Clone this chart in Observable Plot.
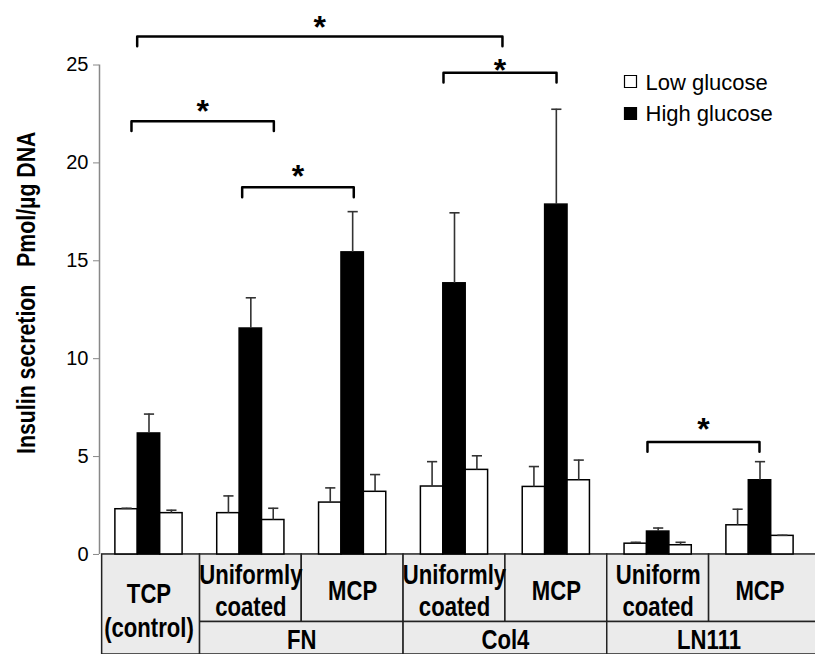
<!DOCTYPE html>
<html>
<head>
<meta charset="utf-8">
<script src="https://cdn.jsdelivr.net/npm/d3@7"></script>
<script src="https://cdn.jsdelivr.net/npm/@observablehq/plot@0.6"></script>
<style>
  html, body { margin: 0; padding: 0; background: #fff; }
  svg { display: block; }
</style>
</head>
<body>
<div id="chart"></div>
<script>
// ---------- data ----------
const groups = ["TCP (control)", "FN Uniformly coated", "FN MCP", "Col4 Uniformly coated", "Col4 MCP", "LN111 Uniform coated", "LN111 MCP"];
const cellLabels = ["TCP\n(control)", "Uniformly\ncoated", "MCP", "Uniformly\ncoated", "MCP", "Uniform\ncoated", "MCP"];
const substrateLabels = ["FN", "Col4", "LN111"];
const substrateFirst = [1, 3, 5];
const substrateLast = [2, 4, 6];

const seriesNames = ["Low glucose", "High glucose", "Low glucose (after)"];
const lowBefore    = [2.31, 2.11, 2.65, 3.47, 3.45, 0.55, 1.49];
const lowBeforeErr = [0.05, 0.88, 0.75, 1.27, 1.04, 0.07, 0.82];
const high         = [6.18, 11.54, 15.43, 13.85, 17.87, 1.17, 3.79];
const highErr      = [0.99, 1.57, 2.08, 3.60, 4.87, 0.18, 0.95];
const lowAfter     = [2.11, 1.76, 3.20, 4.32, 3.79, 0.47, 0.95];
const lowAfterErr  = [0.15, 0.60, 0.88, 0.72, 1.03, 0.15, 0.03];

const yTicks = [0, 5, 10, 15, 20, 25];
const yTitle = "Insulin secretion\u00a0\u00a0\u00a0Pmol/\u00b5g DNA";
const legendLabels = ["Low glucose", "High glucose"];

// significance brackets: ends in group-index units, level in y units
const sigFrom  = [-0.116, -0.172, 0.915, 2.892, 4.895];
const sigTo    = [3.471, 1.226, 2.011, 4.002, 5.995];
const sigLevel = [26.46, 22.13, 18.75, 24.60, 5.75];
const starLevel = [27.53, 23.27, 19.91, 25.32, 7.0];

// ---------- build tables ----------
const values = [lowBefore, high, lowAfter];
const errors = [lowBeforeErr, highErr, lowAfterErr];
const fills = ["white", "black", "white"];
const bw = 0.22;            // bar width in group units
const xDomain = [-0.486, 6.545];
const yMin = -5.11, rowSplit = -3.45;

const bars = [];
values.forEach((vals, k) => vals.forEach((v, i) => bars.push({
  i, k, series: seriesNames[k], value: v, err: errors[k][i],
  x1: i + (k - 1.5) * bw, x2: i + (k - 0.5) * bw, xc: i + (k - 1) * bw, fill: fills[k]
})));

const row1 = groups.map((g, i) => ({i, x1: i - 0.46, x2: i === groups.length - 1 ? xDomain[1] + 0.1 : i + 0.5}));
row1.forEach((d, i) => { if (i > 0) d.x1 = i - 0.5; });
const spans = substrateLabels.map((s, j) => ({
  label: s,
  x1: substrateFirst[j] - 0.5,
  x2: substrateLast[j] === groups.length - 1 ? xDomain[1] + 0.1 : substrateLast[j] + 0.5,
  xc: (substrateFirst[j] + substrateLast[j]) / 2
}));

const bracketPts = [];
sigFrom.forEach((f, j) => {
  const t = sigTo[j], L = sigLevel[j], leg = 0.5;
  bracketPts.push({j, x: f, y: L - leg}, {j, x: f, y: L}, {j, x: t, y: L}, {j, x: t, y: L - leg});
});
const stars = sigFrom.map((f, j) => ({x: (f + sigTo[j]) / 2, y: starLevel[j]}));

const narrow = "'Liberation Sans Narrow', 'Arial Narrow', 'Liberation Sans', Arial, sans-serif";
const sans = "'Liberation Sans', Arial, Helvetica, sans-serif";

const chart = Plot.plot({
  width: 815,
  height: 654,
  marginTop: 64.5,
  marginBottom: 0,
  marginLeft: 99,
  marginRight: 0,
  x: {domain: xDomain, axis: null},
  y: {domain: [yMin, 25], axis: null},
  style: {fontFamily: sans, background: "white", overflow: "visible"},
  marks: [
    // table below the axis
    Plot.rect(row1.slice(1), {x1: "x1", x2: "x2", y1: rowSplit, y2: 0, fill: "#ebebeb", stroke: "#222", strokeWidth: 1.5}),
    Plot.rect(spans, {x1: "x1", x2: "x2", y1: yMin, y2: rowSplit, fill: "#ebebeb", stroke: "#222", strokeWidth: 1.5}),
    Plot.rect(row1.slice(0, 1), {x1: "x1", x2: "x2", y1: yMin, y2: 0, fill: "#ebebeb", stroke: "#222", strokeWidth: 1.5}),
    Plot.text(row1.slice(1), {x: "i", y: (rowSplit + 0) / 2, text: d => cellLabels[d.i], lineAnchor: "middle", lineHeight: 1.16, dy: 1.7,
      fontSize: 27, fontWeight: "bold", fontFamily: narrow, fill: "black"}),
    Plot.text(row1.slice(0, 1), {x: "i", y: (yMin + 0) / 2, text: d => cellLabels[d.i], lineAnchor: "middle", lineHeight: 1.24, dy: 5,
      fontSize: 27, fontWeight: "bold", fontFamily: narrow, fill: "black"}),
    Plot.text(spans, {x: "xc", y: (yMin + rowSplit) / 2, text: "label", lineAnchor: "middle", dy: 2,
      fontSize: 27, fontWeight: "bold", fontFamily: narrow, fill: "black"}),

    // y axis
    Plot.ruleX([xDomain[0]], {y1: 0, y2: 25, stroke: "#888", strokeWidth: 1.5}),
    Plot.axisY({ticks: yTicks, tickSize: 6, tickPadding: 5, fontSize: 20, stroke: "#888", fill: "black", label: null}),
    Plot.text([yTitle], {frameAnchor: "left", dx: -73, dy: -67, rotate: -90, textAnchor: "middle", lineAnchor: "middle",
      fontSize: 26, fontWeight: "bold", fontFamily: narrow, fill: "black"}),

    // bars
    Plot.rectY(bars, {x1: "x1", x2: "x2", y1: 0, y2: "value", fill: "fill", stroke: "black", strokeWidth: 1.5}),
    // error bars (upper only)
    Plot.ruleX(bars, {x: "xc", y1: "value", y2: d => d.value + d.err, stroke: "#333", strokeWidth: 1.6}),
    Plot.link(bars, {x1: d => d.xc - 0.05, x2: d => d.xc + 0.05, y1: d => d.value + d.err, y2: d => d.value + d.err, stroke: "#333", strokeWidth: 1.6}),

    // significance brackets
    Plot.line(bracketPts, {x: "x", y: "y", z: "j", stroke: "black", strokeWidth: 2.5, strokeLinejoin: "round", strokeLinecap: "round"}),
    Plot.text(stars, {x: "x", y: "y", text: d => "*", lineAnchor: "top", fontSize: 32, fontWeight: "bold", fill: "black"}),

    // legend
    ...legendLabels.map((lab, j) => Plot.dot([lab], {frameAnchor: "top-right", dx: -185, dy: 16.5 + 32 * j, symbol: "square", r: 6.77,
      fill: fills[j], stroke: "black", strokeWidth: 1.2})),
    ...legendLabels.map((lab, j) => Plot.text([lab], {frameAnchor: "top-right", dx: -170, dy: 24.5 + 31.7 * j, textAnchor: "start",
      lineAnchor: "bottom", fontSize: 22, fill: "black"}))
  ]
});

// No narrow face is installed: condense the bold labels horizontally (appended to each text's own transform).
chart.querySelectorAll('g[font-family*="Narrow"] text').forEach(el => {
  const t = el.getAttribute("transform") || "";
  el.setAttribute("transform", (t + " scale(0.82,1)").trim());
});

document.getElementById("chart").append(chart);
</script>
</body>
</html>
